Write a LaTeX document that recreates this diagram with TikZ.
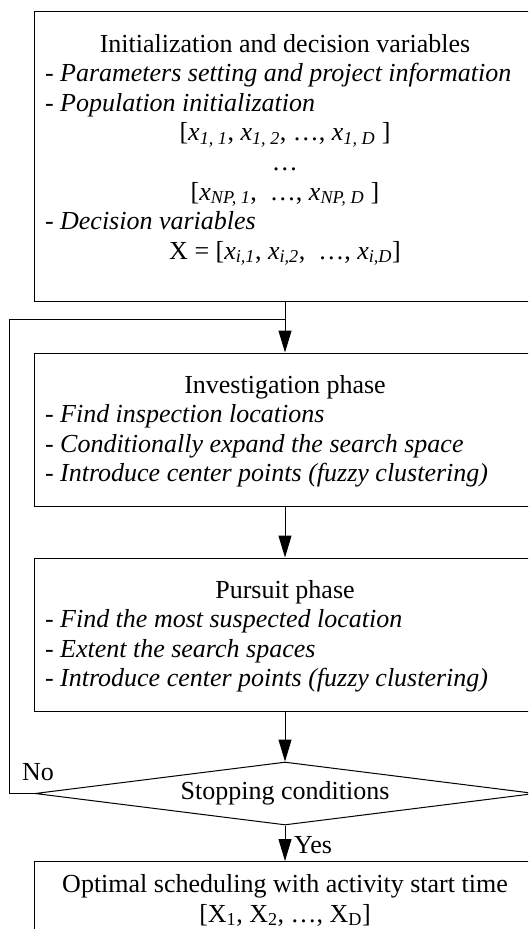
\documentclass[tikz,border=0pt]{standalone}
\usepackage{fontspec}
\setmainfont{Liberation Serif}
\usetikzlibrary{shapes.geometric,arrows.meta,positioning}

\tikzset{
  stepbox/.style={draw, line width=1pt, minimum width=502pt, inner sep=0pt, font=\fontsize{26}{29.6}\selectfont},
  decision/.style={draw, diamond, line width=1pt, aspect=8, minimum width=500pt, minimum height=63pt, inner sep=0pt, font=\fontsize{26}{29.6}\selectfont},
  flow/.style={line width=1pt, -{Triangle[length=22pt,width=13pt]}},
  loopline/.style={line width=1pt},
  tag/.style={font=\fontsize{26}{29.6}\selectfont, inner sep=0pt},
}
\newcommand{\centerrow}[1]{\multicolumn{1}{@{}c@{}}{#1}}

\begin{document}
\begin{tikzpicture}[x=1pt, y=-1pt]
	
	% frame of the picture (the boxes run past the right edge)
	\path[use as bounding box, clip] (0,0) rectangle (528,929);
	
	% Boxes
	\node[stepbox, text height=41pt, text depth=249pt] (init) at (285,156) {%
		\begin{tabular}[t]{@{}p{480pt}@{}}
		\centerrow{Initialization and decision variables}\\
		- \textit{Parameters setting and project information}\\
		- \textit{Population initialization}\\
		\centerrow{[\textit{x\textsubscript{1, 1}}, \textit{x\textsubscript{1, 2}}, \dots, \textit{x\textsubscript{1, D}} ]}\\
		\centerrow{\dots}\\
		\centerrow{[\textit{x\textsubscript{NP, 1}}, \ \dots, \textit{x\textsubscript{NP, D}} ]}\\
		- \textit{Decision variables}\\
		\centerrow{X = [\textit{x\textsubscript{i,1}}, \textit{x\textsubscript{i,2}}, \ \dots, \textit{x\textsubscript{i,D}}]}
		\end{tabular}};
	\node[stepbox, text height=40pt, text depth=113pt] (inv) at (285,429.5) {%
		\begin{tabular}[t]{@{}p{480pt}@{}}
		\centerrow{Investigation phase}\\
		- \textit{Find inspection locations}\\
		- \textit{Conditionally expand the search space}\\
		- \textit{Introduce center points (fuzzy clustering)}
		\end{tabular}};
	\node[stepbox, text height=40pt, text depth=113pt] (pur) at (285,634.5) {%
		\begin{tabular}[t]{@{}p{480pt}@{}}
		\centerrow{Pursuit phase}\\
		- \textit{Find the most suspected location}\\
		- \textit{Extent the search spaces}\\
		- \textit{Introduce center points (fuzzy clustering)}
		\end{tabular}};
	\node[decision] (stop) at (285,793.5) {Stopping conditions};
	\node[stepbox, text height=31pt, text depth=50pt, anchor=north] (out) at (285,861) {%
		\begin{tabular}[t]{@{}c@{}}
		Optimal scheduling with activity start time\\
		{[X\textsubscript{1}, X\textsubscript{2}, \dots, X\textsubscript{D}]}
		\end{tabular}};
	
	% Arrows
	\coordinate (merge) at (285,319);
	\draw[flow] (init) -- (inv);
	\draw[flow] (inv) -- (pur);
	\draw[flow] (pur) -- (stop);
	\draw[flow] (stop) -- (out);
	\draw[loopline] (stop.west) -- ++(-25,0) |- (merge);   % back to the investigation phase
	
	% Labels
	\node[tag] (no) at (38,772) {No};
	\node[tag, anchor=west] (yes) at (294,845) {Yes};
	
\end{tikzpicture}
\end{document}
